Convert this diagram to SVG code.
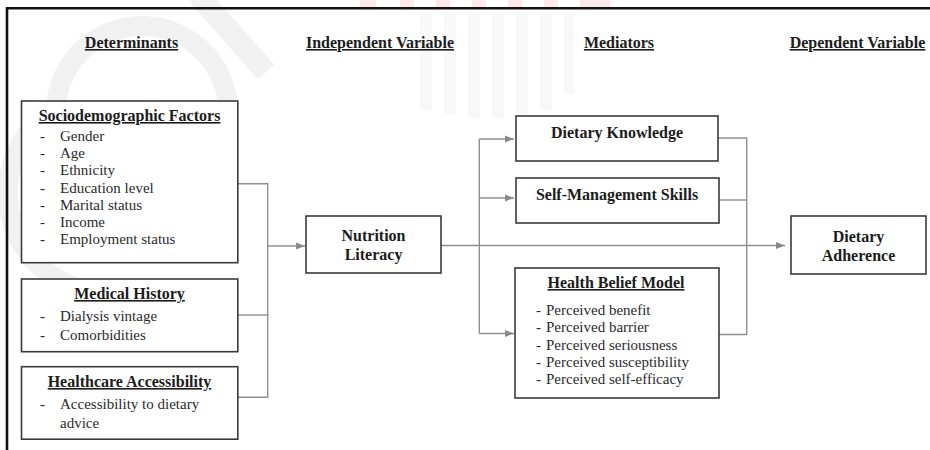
<svg xmlns="http://www.w3.org/2000/svg" width="930" height="450" viewBox="0 0 930 450">
  <defs>
    <marker id="arr" markerWidth="10" markerHeight="8" refX="9" refY="4" orient="auto" markerUnits="userSpaceOnUse">
      <path d="M0,0.5 L9,4 L0,7.5 Z" fill="#8a8a8a"/>
    </marker>
    <style>
      .box { fill: #ffffff; stroke: #3a3a3a; stroke-width: 1.6; }
      .conn { fill: none; stroke: #8f8f8f; stroke-width: 1.4; }
      .hdr { font-family: "Liberation Serif", "Times New Roman", serif; font-weight: bold; font-size: 16px; fill: #1c1c1c; text-anchor: middle; text-decoration: underline; }
      .ttl { font-family: "Liberation Serif", "Times New Roman", serif; font-weight: bold; font-size: 16px; fill: #1c1c1c; text-anchor: middle; }
      .ul { text-decoration: underline; }
      .item { font-family: "Liberation Serif", "Times New Roman", serif; font-size: 15px; fill: #2a2a2a; }
      .wm { fill: none; stroke: #f1f1f1; }
    </style>
  </defs>
  <rect width="930" height="450" fill="#ffffff"/>

  <!-- watermark (faint background) -->
  <g id="watermark">
    <circle class="wm" cx="142" cy="112" r="86" stroke-width="20"/>
    <path class="wm" d="M 45 115 A 100 100 0 0 0 120 292" stroke-width="20"/>
    <line class="wm" x1="198" y1="-5" x2="266" y2="72" stroke-width="22"/>
    <g fill="#f8f8f8">
      <rect x="420" y="14" width="12" height="96"/>
      <rect x="444" y="14" width="12" height="100"/>
      <rect x="468" y="14" width="12" height="104"/>
      <rect x="492" y="14" width="12" height="104"/>
      <rect x="516" y="14" width="12" height="100"/>
      <rect x="540" y="14" width="12" height="96"/>
      <rect x="564" y="14" width="10" height="80"/>
    </g>
    <g fill="#fbe9ec">
      <rect x="360" y="0" width="16" height="8"/>
      <rect x="400" y="0" width="14" height="8"/>
      <rect x="436" y="0" width="14" height="8"/>
      <rect x="472" y="0" width="14" height="8"/>
      <rect x="508" y="0" width="14" height="8"/>
      <rect x="544" y="0" width="14" height="8"/>
      <rect x="580" y="0" width="30" height="8"/>
    </g>
  </g>

  <!-- outer frame -->
  <path d="M 7 451 L 7 8.3 L 931 8.3" fill="none" stroke="#111111" stroke-width="2.6"/>

  <!-- column headers -->
  <g id="headers">
    <text class="hdr" x="131.5" y="48">Determinants</text>
    <text class="hdr" x="380" y="48">Independent Variable</text>
    <text class="hdr" x="619" y="48">Mediators</text>
    <text class="hdr" x="857.5" y="48">Dependent Variable</text>
  </g>

  <!-- connectors -->
  <g id="connectors">
    <polyline class="conn" points="238,183.7 267.7,183.7 267.7,397.3 238,397.3"/>
    <line class="conn" x1="238" y1="315" x2="267.7" y2="315"/>
    <line class="conn" x1="267.7" y1="246" x2="305" y2="246" marker-end="url(#arr)"/>
    <line class="conn" x1="441" y1="245.5" x2="785" y2="245.5" marker-end="url(#arr)"/>
    <line class="conn" x1="479.3" y1="139" x2="479.3" y2="333.5"/>
    <line class="conn" x1="479.3" y1="139" x2="514" y2="139" marker-end="url(#arr)"/>
    <line class="conn" x1="479.3" y1="198" x2="514" y2="198" marker-end="url(#arr)"/>
    <line class="conn" x1="479.3" y1="333.5" x2="514" y2="333.5" marker-end="url(#arr)"/>
    <polyline class="conn" points="718,138 746.7,138 746.7,334.5 719,334.5"/>
    <line class="conn" x1="719" y1="200" x2="746.7" y2="200"/>
  </g>

  <!-- Sociodemographic Factors -->
  <g id="sociodemographic">
    <rect class="box" x="21.5" y="101" width="216.3" height="161.7"/>
    <text class="ttl ul" x="129.5" y="121">Sociodemographic Factors</text>
    <g class="item">
      <text x="40" y="141">-</text><text x="60" y="141">Gender</text>
      <text x="40" y="158.2">-</text><text x="60" y="158.2">Age</text>
      <text x="40" y="175.3">-</text><text x="60" y="175.3">Ethnicity</text>
      <text x="40" y="192.5">-</text><text x="60" y="192.5">Education level</text>
      <text x="40" y="209.7">-</text><text x="60" y="209.7">Marital status</text>
      <text x="40" y="226.8">-</text><text x="60" y="226.8">Income</text>
      <text x="40" y="244">-</text><text x="60" y="244">Employment status</text>
    </g>
  </g>

  <!-- Medical History -->
  <g id="medical-history">
    <rect class="box" x="21.5" y="279" width="216.3" height="72.7"/>
    <text class="ttl ul" x="129.5" y="299">Medical History</text>
    <g class="item">
      <text x="40" y="320.5">-</text><text x="60" y="320.5">Dialysis vintage</text>
      <text x="40" y="340">-</text><text x="60" y="340">Comorbidities</text>
    </g>
  </g>

  <!-- Healthcare Accessibility -->
  <g id="healthcare-accessibility">
    <rect class="box" x="21.5" y="366.7" width="216.3" height="72.5"/>
    <text class="ttl ul" x="129.5" y="387">Healthcare Accessibility</text>
    <g class="item">
      <text x="40" y="409">-</text><text x="60" y="409">Accessibility to dietary</text>
      <text x="60" y="428">advice</text>
    </g>
  </g>

  <!-- Nutrition Literacy -->
  <g id="nutrition-literacy">
    <rect class="box" x="306" y="216" width="135" height="57"/>
    <text class="ttl" x="373.5" y="241">Nutrition</text>
    <text class="ttl" x="373.5" y="260">Literacy</text>
  </g>

  <!-- Dietary Knowledge -->
  <g id="dietary-knowledge">
    <rect class="box" x="516" y="116" width="202" height="45"/>
    <text class="ttl" x="617" y="138">Dietary Knowledge</text>
  </g>

  <!-- Self-Management Skills -->
  <g id="self-management">
    <rect class="box" x="516" y="178" width="203" height="45"/>
    <text class="ttl" x="617" y="200">Self-Management Skills</text>
  </g>

  <!-- Health Belief Model -->
  <g id="health-belief-model">
    <rect class="box" x="515" y="268" width="204" height="130"/>
    <text class="ttl ul" x="616" y="288">Health Belief Model</text>
    <g class="item">
      <text x="536" y="315">-</text><text x="546" y="315">Perceived benefit</text>
      <text x="536" y="332.3">-</text><text x="546" y="332.3">Perceived barrier</text>
      <text x="536" y="349.6">-</text><text x="546" y="349.6">Perceived seriousness</text>
      <text x="536" y="366.9">-</text><text x="546" y="366.9">Perceived susceptibility</text>
      <text x="536" y="384.2">-</text><text x="546" y="384.2">Perceived self-efficacy</text>
    </g>
  </g>

  <!-- Dietary Adherence -->
  <g id="dietary-adherence">
    <rect class="box" x="791" y="216" width="135" height="58"/>
    <text class="ttl" x="858.5" y="241.5">Dietary</text>
    <text class="ttl" x="858.5" y="260.5">Adherence</text>
  </g>
</svg>
